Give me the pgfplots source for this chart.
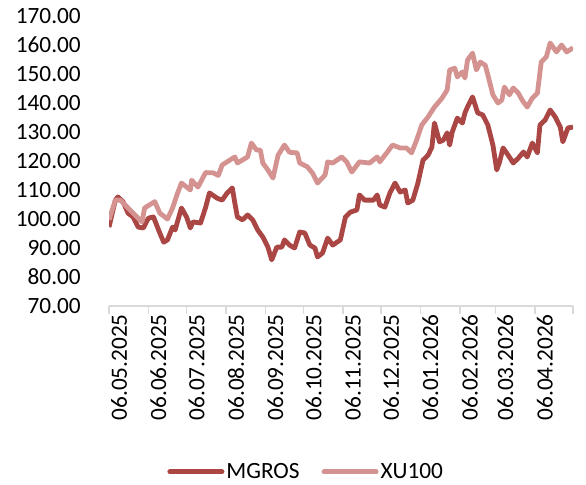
\documentclass[border=0pt]{standalone}
\usepackage{fontspec}
\setmainfont{Carlito}
\usepackage{pgfplots}
\pgfplotsset{compat=1.18}
\definecolor{mgros}{HTML}{AA4644}
\definecolor{xu}{HTML}{D49391}
\definecolor{axgray}{HTML}{D9D9D9}
\begin{document}
\begin{tikzpicture}
\begin{axis}[
  at={(109bp,178bp)}, anchor=south west,
  scale only axis, width=464bp, height=290bp,
  xmin=0, xmax=365, ymin=70, ymax=170,
  axis lines*=left,
  y axis line style={draw=none},
  x axis line style={draw=axgray, line width=1.5bp},
  xtick={0,31,61,92,123,153,184,214,245,276,304,335,365},
  xticklabels={06.05.2025,06.06.2025,06.07.2025,06.08.2025,06.09.2025,06.10.2025,06.11.2025,06.12.2025,06.01.2026,06.02.2026,06.03.2026,06.04.2026,{}},
  x tick style={draw=axgray, line width=1.5bp},
  tick align=outside, major tick length=8bp,
  ytick={70,80,...,170},
  y tick style={draw=none},
  font=\fontsize{23.3bp}{27bp}\selectfont,
  tick label style={font=\fontsize{23.3bp}{27bp}\selectfont},
  xticklabel style={rotate=90, anchor=east, inner sep=0pt, yshift=-10bp},
  yticklabel style={inner sep=0pt, xshift=-20bp, /pgf/number format/.cd, fixed, fixed zerofill, precision=2, assume math mode=true},
  legend style={at={(0.425,-0.572)}, anchor=center, draw=none, legend columns=2,
    font=\fontsize{23.3bp}{27bp}\selectfont,
    /tikz/every even column/.append style={column sep=20bp}},
  legend image code/.code={\draw[#1, line width=5bp, line cap=round] (0bp,0bp) -- (52bp,0bp);},
  every axis plot/.append style={line width=4.8bp, line join=round},
]
\addplot[mgros] coordinates {
(0,97.2)(5,106.5)(7,107.6)(11,106)(15,102)(19,100.7)(23,97.2)(27,96.9)(31,100.3)(35,100.7)(39,96.2)(43,92)(46,92.8)(50,97.2)(52,96.2)(57,103.8)(61,100.7)(64,96.9)(66,99)(72,98.6)(76,104)(79,109)(85,107.2)(89,106.5)(93,109)(97,110.7)(99,105.5)(101,100.7)(105,99.7)(109,101.4)(113,99.7)(117,96.2)(121,93.8)(125,90.3)(128,85.9)(132,90.3)(136,90.3)(138,92.8)(142,91)(146,90)(150,95.5)(154,95.2)(158,91)(162,90)(164,86.9)(168,88.3)(172,93.4)(176,91)(182,92.8)(186,100.7)(190,102.4)(195,103.1)(197,108.3)(201,106.5)(208,106.5)(211,108.3)(213,104.8)(217,104.1)(221,109)(225,112.4)(229,109.3)(233,110)(235,105.5)(239,106.5)(243,112.4)(247,120.3)(251,122)(254,124.8)(256,133.1)(260,126.6)(263,127.2)(266,129.7)(268,125.5)(270,130)(274,134.8)(278,133.1)(280,136.6)(282,138.6)(286,142.1)(290,136.6)(294,135.9)(298,132.4)(302,125.5)(305,116.9)(307,119.3)(310,124.5)(314,122)(318,119.3)(322,121)(326,123.1)(329,121.4)(333,126.2)(337,122.8)(339,132.4)(343,134.1)(347,137.6)(351,135.2)(355,131.7)(357,126.6)(361,131.4)(365,131.7)
};
\addlegendentry{MGROS}
\addplot[xu] coordinates {
(0,99.7)(5,106.5)(9,106.5)(19,102)(26,99)(28,103.8)(36,106)(40,102)(46,100)(50,103.8)(54,109)(57,112.4)(64,110)(65,113.4)(70,111)(76,116)(82,115.9)(86,115)(89,118.6)(95,120.3)(99,121.4)(101,119.3)(109,121.4)(112,126.2)(116,123.8)(119,123.8)(121,119.3)(125,116.9)(129,114.1)(133,122)(138,125.5)(142,123)(148,122.8)(150,119.3)(156,118)(160,115.9)(164,112.4)(170,115.2)(172,119.7)(176,119.3)(183,121.4)(187,119.7)(191,116.2)(197,119.7)(205,119.3)(211,121.4)(213,119.7)(219,123.1)(223,125.5)(229,124.5)(234,124.5)(238,122.8)(242,127.2)(246,132.4)(251,135.2)(256,138.6)(262,141.7)(266,144.5)(268,151.4)(272,152)(274,149)(278,150.7)(280,148.6)(282,154.8)(286,157.2)(289,151.4)(292,154.1)(296,153)(298,149.7)(302,142.8)(306,140)(309,141)(311,145.5)(315,142.8)(318,145.2)(322,143.4)(325,141)(329,138.6)(333,141.7)(337,143.4)(340,154.1)(344,155.9)(347,160.7)(352,157.6)(356,160)(360,157.6)(365,159)
};
\addlegendentry{XU100}
\end{axis}
\useasboundingbox (0,0) rectangle (586bp,484bp);
\end{tikzpicture}
\end{document}
